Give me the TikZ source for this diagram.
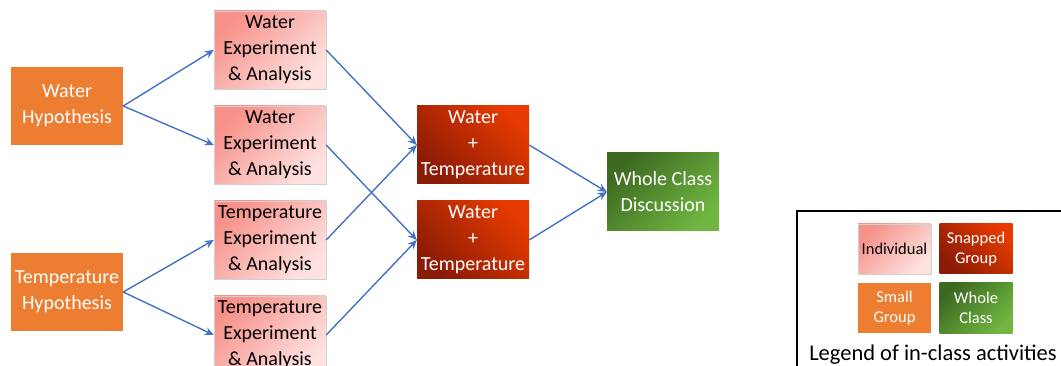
\documentclass[tikz,border=0pt]{standalone}
\usepackage{fontspec}
\setmainfont{Carlito}
\usepackage{tikz}
\usetikzlibrary{arrows.meta}
\definecolor{hypcol}{HTML}{ED7D31}
\definecolor{indtop}{HTML}{F7918A}
\definecolor{indbot}{HTML}{FDE2E0}
\definecolor{snaptop}{HTML}{E63A00}
\definecolor{snapbot}{HTML}{8A1B06}
\definecolor{wholetop}{HTML}{3D6A21}
\definecolor{wholebot}{HTML}{70B641}
\definecolor{linkcol}{HTML}{4472C4}

\begin{document}
\begin{tikzpicture}[x=1pt,y=-1pt,
	box/.style={minimum width=112pt, minimum height=78pt, inner sep=0pt, align=center, font=\fontsize{20}{26}\selectfont},
	hyp/.style={box, fill=hypcol, text=white},
	indiv/.style={box, draw=black!18, top color=indtop, bottom color=indbot, shading angle=45},
	snap/.style={box, top color=snaptop, bottom color=snapbot, shading angle=-45, text=white},
	whole/.style={box, top color=wholetop, bottom color=wholebot, shading angle=45, text=white},
	small/.style={minimum width=73pt, minimum height=50pt, font=\fontsize{16.5}{20}\selectfont},
	link/.style={draw=linkcol, line width=1.4pt, -{Stealth[length=9pt,width=8pt]}}]
\useasboundingbox (0,0) rectangle (1061,366);
\node [hyp] (a) at (67,106) {Water\\Hypothesis};
\node [hyp] (b) at (67,292) {Temperature\\Hypothesis};
\node [indiv] (c) at (270,50) {Water\\Experiment\\\& Analysis};
\node [indiv] (d) at (270,145) {Water\\Experiment\\\& Analysis};
\node [indiv] (e) at (270,240) {Temperature\\Experiment\\\& Analysis};
\node [indiv] (f) at (270,335) {Temperature\\Experiment\\\& Analysis};
\node [snap] (g) at (473,145) {Water\\+\\Temperature};
\node [snap] (h) at (473,240) {Water\\+\\Temperature};
\node [whole] (i) at (663,192) {Whole Class\\Discussion};
\draw [link] (a.east) -- (c.west);
\draw [link] (a.east) -- (d.west);
\draw [link] (b.east) -- (e.west);
\draw [link] (b.east) -- (f.west);
\draw [link] (c.east) -- (g.west);
\draw [link] (d.east) -- (h.west);
\draw [link] (e.east) -- (g.west);
\draw [link] (f.east) -- (h.west);
\draw [link] (g.east) -- (i.west);
\draw [link] (h.east) -- (i.west);
% legend
\draw [line width=1.3pt] (797,372) |- (1066,211);
\node [indiv, small] (j) at (894.5,249) {Individual};
\node [snap, small] (k) at (976,249) {Snapped\\Group};
\node [hyp, small] (l) at (894.5,308) {Small\\Group};
\node [whole, small] (m) at (976,308) {Whole\\Class};
\node [font=\fontsize{22.5}{26}\selectfont, inner sep=0pt] (n) at (933,355) {Legend of in-class activities};
\end{tikzpicture}
\end{document}
